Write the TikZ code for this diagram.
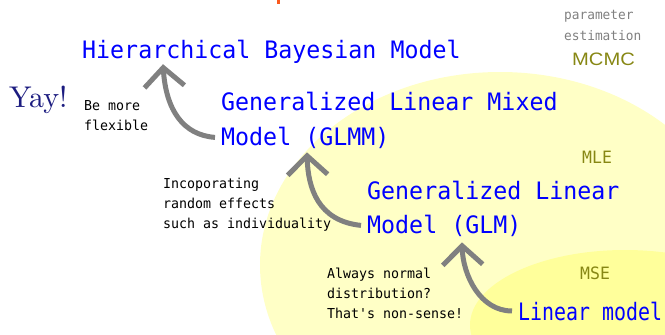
\documentclass[tikz,border=0pt]{standalone}
\usepackage{fontspec}
\usetikzlibrary{arrows.meta,calc}
\newfontfamily\monof[FakeStretch=0.97]{DejaVu Sans Mono}
\newfontfamily\monon[FakeStretch=0.83]{DejaVu Sans Mono}
\newfontfamily\arialf[FakeStretch=1.12]{Liberation Sans}
\newfontfamily\yayf{lmroman10-regular.otf}
\definecolor{bigyel}{RGB}{255,255,198}
\definecolor{smallyel}{RGB}{255,255,155}
\definecolor{arrgray}{RGB}{128,128,128}
\definecolor{olivetx}{RGB}{135,135,20}
\definecolor{graytx}{RGB}{128,128,128}
\definecolor{navytx}{RGB}{28,28,128}
\definecolor{orangemk}{RGB}{250,90,30}
\tikzset{
  bluetxt/.style={font=\monof\fontsize{24}{24}\selectfont, text=blue, inner sep=0pt, anchor=base west},
  bluenarrow/.style={font=\monon\fontsize{24}{24}\selectfont, text=blue, inner sep=0pt, anchor=base west},
  notetxt/.style={font=\monof\fontsize{13.7}{14}\selectfont, text=black, inner sep=0pt, anchor=base west},
  graytxt/.style={font=\monof\fontsize{13.2}{14}\selectfont, text=graytx, inner sep=0pt, anchor=base west},
  olivetxt/.style={font=\monof\fontsize{17}{17}\selectfont, text=olivetx, inner sep=0pt, anchor=base west},
  arr/.style={draw=arrgray, line width=5pt, -{Straight Barb[length=19pt,width=40pt]}}
}
\begin{document}
\begin{tikzpicture}[x=1pt,y=-1pt]
\useasboundingbox (0,0) rectangle (665,335);
\clip (0,0) rectangle (665,335);
% background regions
\fill[bigyel] (500,265) ellipse [x radius=240, y radius=193];
\fill[smallyel] (625,325) ellipse [x radius=155, y radius=75];
\fill[orangemk] (277,0) rectangle (280,4);
% model names
\node[bluetxt] (hbm) at (82,58) {Hierarchical Bayesian Model};
\node[bluetxt] (glmm1) at (221,110) {Generalized Linear Mixed};
\node[bluetxt] (glmm2) at (221,145) {Model (GLMM)};
\node[bluetxt] (glm1) at (367,199) {Generalized Linear};
\node[bluetxt] (glm2) at (367,233) {Model (GLM)};
\node[bluenarrow] (lin) at (518,320) {Linear model};
% notes
\node[font=\yayf\fontsize{30}{30}\selectfont, text=navytx, inner sep=0pt, anchor=base west] (yay) at (9,107) {Yay!};
\node[notetxt] (n1a) at (84,110) {Be more};
\node[notetxt] (n1b) at (84,130) {flexible};
\node[notetxt] (n2a) at (163,188) {Incoporating};
\node[notetxt] (n2b) at (163,208) {random effects};
\node[notetxt] (n2c) at (163,228) {such as individuality};
\node[notetxt] (n3a) at (327,278) {Always normal};
\node[notetxt] (n3b) at (327,298) {distribution?};
\node[notetxt] (n3c) at (327,318) {That's non-sense!};
% estimation labels
\node[graytxt] (par1) at (564,19.5) {parameter};
\node[graytxt] (par2) at (564,40) {estimation};
\node[font=\arialf\fontsize{18}{18}\selectfont, text=olivetx, inner sep=0pt, anchor=base west] (mcmc) at (572,65.5) {MCMC};
\node[olivetxt] (mle) at (582,163) {MLE};
\node[olivetxt] (mse) at (580,279) {MSE};
% arrows
\coordinate (t1) at ($(hbm.south west)+(81,1)$);
\coordinate (t2) at ($(glmm2.south west)+(86,4)$);
\coordinate (t3) at ($(glm2.south west)+(95,6)$);
\draw[arr] ([xshift=-6pt]glmm2.west) .. controls (183,135) and (166,110) .. (t1);
\draw[arr] ([xshift=-6pt]glm2.west) .. controls (318,221) and (308,188) .. (t2);
\draw[arr] ([xshift=-6pt]lin.west) .. controls (480,311) and (463,275) .. (t3);
\end{tikzpicture}
\end{document}
